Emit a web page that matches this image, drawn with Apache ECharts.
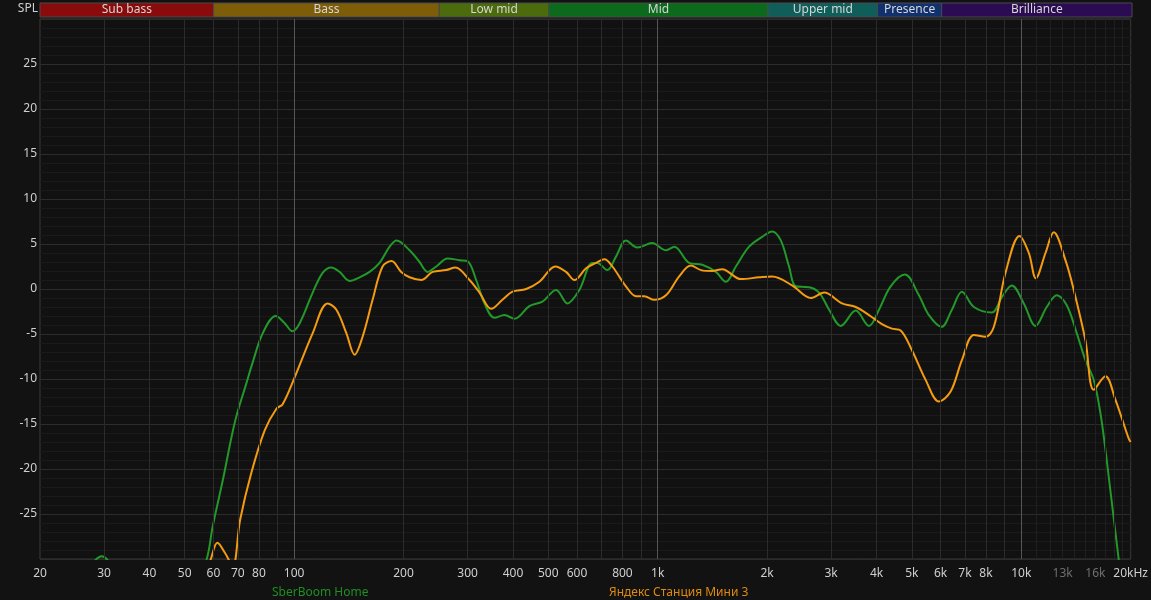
<!DOCTYPE html>
<html>
<head>
<meta charset="utf-8">
<script src="https://cdn.jsdelivr.net/npm/echarts@6/dist/echarts.min.js"></script>
<style>
html,body{margin:0;padding:0;background:#121212;}
#chart{width:1151px;height:600px;}
</style>
</head>
<body>
<div id="chart"></div>
<script>
// ---- data ----
const sberFreq = [20, 25, 29.6, 34, 45, 52, 57.4, 59.7, 63.7, 68.7, 74.0, 77.0, 82.0, 89.0, 94.2, 98.9, 103.6, 112.5, 119.8, 126.6, 133.4, 142.1, 151.4, 161.3, 171.8, 183.1, 191.4, 207.8, 221.3, 232.9, 246.0, 264.2, 285.0, 299.8, 316.8, 333.9, 355.7, 379.0, 403.7, 443.8, 481.8, 525.5, 564.4, 609, 661, 682, 727, 768, 818, 879, 966, 1054, 1111, 1221, 1326, 1446, 1540, 1641, 1784, 1938, 2064, 2181, 2298, 2398, 2609, 2780, 2962, 3189, 3506, 3813, 4062, 4374, 4788, 5231, 5573, 6040, 6445, 6868, 7410, 8302, 8844, 9420, 10164, 10944, 11754, 12522, 13344, 14212, 15016, 15830, 16514, 17186, 18536, 20000];
const sberDb = [-40, -34, -29.7, -33, -38, -34, -30.1, -26.4, -21.2, -14.8, -10.4, -8.1, -4.9, -3.0, -3.8, -4.7, -3.8, -0.4, 1.8, 2.4, 1.9, 0.9, 1.3, 1.9, 2.9, 4.7, 5.4, 4.3, 3.0, 1.9, 2.5, 3.4, 3.2, 3.1, 1.0, -1.6, -3.2, -2.9, -3.3, -1.9, -1.4, -0.1, -1.6, -0.1, 2.9, 2.9, 2.1, 3.6, 5.4, 4.6, 5.1, 4.3, 4.7, 2.9, 2.7, 1.9, 0.8, 2.5, 4.7, 5.8, 6.4, 5.4, 2.5, 0.3, 0.2, -0.4, -2.3, -4.1, -2.4, -4.1, -2.3, 0.3, 1.6, -0.7, -2.9, -4.2, -2.3, -0.3, -2.0, -2.6, -0.9, 0.4, -1.6, -4.1, -2.0, -0.7, -1.8, -4.9, -7.9, -10.1, -13.8, -19.0, -30.0, -40];

const yandexFreq = [20, 40, 55, 58.9, 61.5, 64.5, 67.8, 71.0, 76.3, 83.0, 89.4, 93.0, 99.7, 112.5, 123.6, 130.7, 139.2, 146.7, 154.3, 164.4, 175.1, 185.4, 197.1, 207.8, 223.7, 240.4, 262.0, 277.9, 303.7, 323.6, 348.4, 374.1, 398.6, 434.8, 472.8, 523.2, 559.8, 590.1, 635.5, 676.9, 713.4, 750.6, 818, 872, 918.8, 978.9, 1054, 1146, 1234, 1315, 1412, 1504, 1694, 1901, 2064, 2343, 2638, 2869, 3214, 3506, 3813, 4138, 4409, 4660, 5005, 5458, 5938, 6394, 6868, 7410, 7978, 8409, 9054, 9892, 10494, 10966, 11662, 12290, 13232, 13946, 15016, 15830, 17042, 18156, 19748, 20000];
const yandexDb = [-45, -40, -33, -30.1, -28.2, -29.3, -30.8, -25.7, -20.4, -15.7, -13.3, -12.8, -10.1, -4.9, -1.6, -2.3, -4.9, -7.3, -5.3, -1.2, 2.5, 3.1, 1.9, 1.3, 1.0, 1.9, 2.1, 2.4, 1.0, -0.4, -2.2, -1.2, -0.3, 0.0, 0.8, 2.5, 1.9, 1.0, 2.3, 2.9, 3.3, 2.5, 0.3, -0.8, -0.8, -1.2, -0.7, 1.4, 2.6, 2.1, 2.0, 2.2, 1.1, 1.3, 1.4, 0.4, -1.0, -0.4, -1.6, -2.0, -2.9, -3.9, -4.4, -4.6, -6.8, -10.1, -12.5, -11.4, -7.9, -5.1, -5.3, -4.2, 1.8, 5.9, 4.0, 1.2, 4.0, 6.3, 3.2, -0.1, -5.7, -11.2, -9.7, -12.3, -16.6, -17.0];

const seriesNames = ['SberBoom Home', 'Яндекс Станция Мини 3'];

const tickFreqs = [20, 30, 40, 50, 60, 70, 80, 100, 200, 300, 400, 500, 600, 800, 1000, 2000, 3000, 4000, 5000, 6000, 7000, 8000, 10000, 13000, 16000, 20000];
const tickLabels = ['20', '30', '40', '50', '60', '70', '80', '100', '200', '300', '400', '500', '600', '800', '1k', '2k', '3k', '4k', '5k', '6k', '7k', '8k', '10k', '13k', '16k', '20kHz'];
const dimTickLabels = ['13k', '16k'];

const gridFreqs = [30, 40, 50, 60, 70, 80, 90, 200, 300, 400, 500, 600, 700, 800, 900, 2000, 3000, 4000, 5000, 6000, 7000, 8000, 9000];
const decadeFreqs = [100, 1000, 10000];
const fineFreqs = [11000, 12000, 13000, 14000, 15000, 16000, 17000, 18000, 19000];

const bandNames = ['Sub bass', 'Bass', 'Low mid', 'Mid', 'Upper mid', 'Presence', 'Brilliance'];
const bandEdges = [20, 60, 250, 500, 2000, 4000, 6000, 20000];

// ---- styles ----
const bandColors = ['#8a0b0b', '#7d5d08', '#4b6b0c', '#0c6a1c', '#0f5e5a', '#10306e', '#2b0c52'];
const FONT = 'Noto Sans';

const chart = echarts.init(document.getElementById('chart'), null, {renderer: 'canvas'});

const zip = (f, d) => f.map((v, i) => [v, d[i]]);
const labelMap = {};
tickFreqs.forEach((f, i) => { labelMap[f] = tickLabels[i]; });

const vLines = [];
gridFreqs.forEach(f => vLines.push({xAxis: f, lineStyle: {color: '#2b2b2b', width: 1, type: 'solid'}}));
fineFreqs.forEach(f => vLines.push({xAxis: f, lineStyle: {color: '#1f1f1f', width: 1, type: 'solid'}}));
decadeFreqs.forEach(f => vLines.push({xAxis: f, lineStyle: {color: '#555555', width: 1, type: 'solid'}}));

const bandAreas = bandNames.map((n, i) => [
  {name: n, xAxis: bandEdges[i], yAxis: 0, itemStyle: {color: bandColors[i], borderColor: '#4a4a4a', borderWidth: 1}},
  {xAxis: bandEdges[i + 1], yAxis: 1}
]);

const option = {
  backgroundColor: '#121212',
  animation: false,
  textStyle: {fontFamily: FONT},
  grid: [
    {left: 40, right: 19, top: 19, bottom: 41, show: true, backgroundColor: '#111111', borderColor: '#3a3a3a', borderWidth: 1, containLabel: false},
    {left: 40, right: 19, top: 3, height: 14, show: false, containLabel: false}
  ],
  xAxis: [
    {
      type: 'log', logBase: 10, min: 20, max: 20000, gridIndex: 0,
      axisLine: {show: false}, axisTick: {show: false}, splitLine: {show: false},
      axisLabel: {
        customValues: tickFreqs,
        margin: 9,
        fontFamily: FONT, fontSize: 12, color: '#cfcfcf',
        showMinLabel: true, showMaxLabel: true,
        formatter: v => {
          const key = Math.round(v);
          const t = labelMap[key] !== undefined ? labelMap[key] : '';
          return dimTickLabels.indexOf(t) >= 0 ? '{d|' + t + '}' : t;
        },
        rich: {d: {color: '#6f6f6f', fontSize: 12, fontFamily: FONT}}
      }
    },
    {type: 'log', logBase: 10, min: 20, max: 20000, gridIndex: 1, show: false}
  ],
  yAxis: [
    {
      type: 'value', min: -30, max: 30, interval: 5, gridIndex: 0,
      name: 'SPL', nameLocation: 'end', nameGap: 4,
      nameTextStyle: {color: '#cfcfcf', fontSize: 12, fontFamily: FONT, align: 'right', verticalAlign: 'bottom', padding: [0, 2, 0, 0]},
      axisLine: {show: false}, axisTick: {show: false},
      axisLabel: {showMinLabel: false, showMaxLabel: false, margin: 3, color: '#cfcfcf', fontSize: 12, fontFamily: FONT},
      splitLine: {show: true, lineStyle: {color: '#2c2c2c', width: 1}},
      minorTick: {show: false, splitNumber: 5},
      minorSplitLine: {show: true, lineStyle: {color: '#1a1a1a', width: 1}}
    },
    {type: 'value', min: 0, max: 1, gridIndex: 1, show: false}
  ],
  legend: [
    {data: [{name: seriesNames[0], icon: 'none', textStyle: {color: '#1f8f22'}}], left: 262, top: 582, itemWidth: 0, itemHeight: 0, selectedMode: false, textStyle: {fontSize: 12, fontFamily: FONT}},
    {data: [{name: seriesNames[1], icon: 'none', textStyle: {color: '#e08a0c'}}], left: 599, top: 582, itemWidth: 0, itemHeight: 0, selectedMode: false, textStyle: {fontSize: 12, fontFamily: FONT}}
  ],
  series: [
    {
      type: 'line', name: 'grid', xAxisIndex: 0, yAxisIndex: 0, data: [], silent: true, z: 1,
      markLine: {silent: true, symbol: ['none', 'none'], label: {show: false}, animation: false, data: vLines}
    },
    {
      type: 'line', name: 'bands', xAxisIndex: 1, yAxisIndex: 1, data: [], silent: true, z: 1,
      markArea: {
        silent: true,
        label: {show: true, position: 'inside', color: '#d6d6d6', fontSize: 12, fontFamily: FONT},
        data: bandAreas
      }
    },
    {
      type: 'line', name: seriesNames[0], xAxisIndex: 0, yAxisIndex: 0,
      data: zip(sberFreq, sberDb), smooth: 0.35, showSymbol: false, clip: true, z: 3,
      lineStyle: {color: '#22992a', width: 2}, itemStyle: {color: '#22992a'}
    },
    {
      type: 'line', name: seriesNames[1], xAxisIndex: 0, yAxisIndex: 0,
      data: zip(yandexFreq, yandexDb), smooth: 0.35, showSymbol: false, clip: true, z: 4,
      lineStyle: {color: '#f59b0f', width: 2}, itemStyle: {color: '#f59b0f'}
    }
  ]
};
chart.setOption(option);
</script>
</body>
</html>
